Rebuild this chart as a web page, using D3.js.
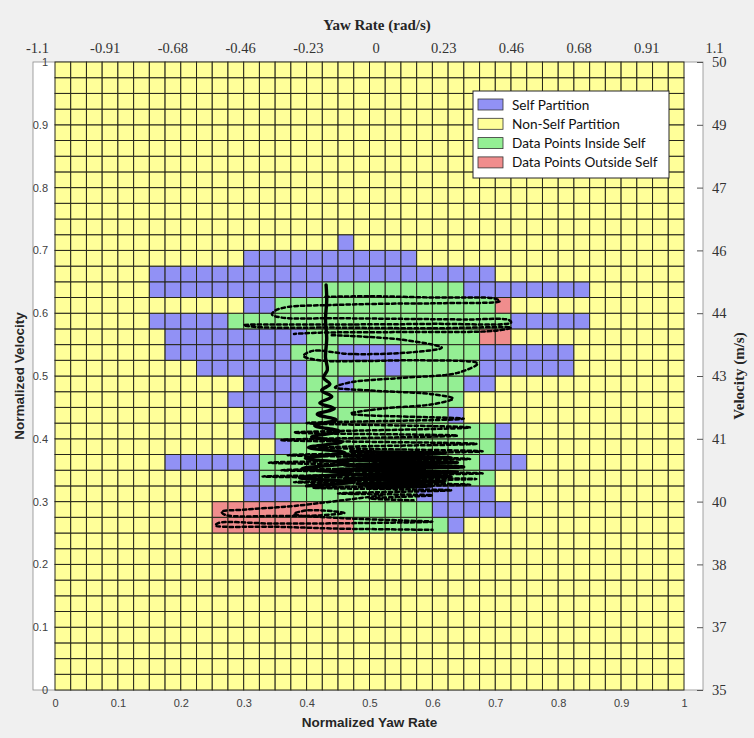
<!DOCTYPE html>
<html>
<head>
<meta charset="utf-8">
<script src="https://cdn.jsdelivr.net/npm/d3@7"></script>
<style>
  body { margin: 0; background: #f0f0f0; }
  svg { display: block; }
</style>
</head>
<body>
<svg id="chart" width="754" height="738"></svg>
<script>
// ---- data ----
const gridSize = 40; // partition cells per axis
const normTicks = [0, 0.1, 0.2, 0.3, 0.4, 0.5, 0.6, 0.7, 0.8, 0.9, 1];
const normTickLabels = ["0", "0.1", "0.2", "0.3", "0.4", "0.5", "0.6", "0.7", "0.8", "0.9", "1"];
const yawTickLabels = ["-1.1", "-0.91", "-0.68", "-0.46", "-0.23", "0", "0.23", "0.46", "0.68", "0.91", "1.1"];
const velTickLabels = ["35", "37", "38", "40", "41", "43", "44", "46", "47", "49", "50"];

// runs of cells: [row, firstCol, lastCol]  (row 0 = bottom, col 0 = left)
const selfRuns = [
  [28, 18, 18],
  [27, 12, 22],
  [26, 6, 27],
  [25, 6, 16], [25, 26, 33],
  [24, 12, 13],
  [23, 6, 10], [23, 29, 33],
  [22, 7, 15],
  [21, 7, 14], [21, 18, 21], [21, 27, 32],
  [20, 9, 15], [20, 21, 21], [20, 27, 32],
  [19, 12, 15], [19, 18, 18], [19, 26, 27],
  [18, 11, 15],
  [17, 12, 15], [17, 25, 25],
  [16, 12, 13], [16, 28, 28],
  [15, 14, 14], [15, 28, 28],
  [14, 7, 12], [14, 27, 29],
  [13, 12, 12],
  [12, 12, 14], [12, 23, 27],
  [11, 24, 28],
  [10, 25, 25]
];
const insideRuns = [
  [25, 17, 25],
  [24, 14, 27],
  [23, 11, 28],
  [22, 16, 26],
  [21, 15, 17], [21, 22, 26],
  [20, 16, 20], [20, 22, 26],
  [19, 16, 17], [19, 19, 25],
  [18, 16, 25],
  [17, 16, 24],
  [16, 14, 27],
  [15, 15, 27],
  [14, 13, 26],
  [13, 13, 27],
  [12, 15, 22],
  [11, 17, 23],
  [10, 19, 24]
];
const outsideRuns = [
  [24, 28, 28],
  [22, 27, 28],
  [11, 10, 16],
  [10, 10, 18]
];

const legendLabels = ["Self Partition", "Non-Self Partition", "Data Points Inside Self", "Data Points Outside Self"];

// flight trace (normalized yaw rate, normalized velocity)
const stemTrace = [
  [0.431,0.645],[0.432,0.62],[0.430,0.59],[0.432,0.56],[0.430,0.53],[0.433,0.51],
  [0.427,0.497],[0.437,0.487],[0.424,0.477],[0.440,0.467],[0.421,0.457],[0.444,0.448],
  [0.417,0.439],[0.447,0.43],[0.413,0.421],[0.452,0.412],[0.408,0.403],[0.456,0.395],
  [0.403,0.386],[0.461,0.378],[0.398,0.369],[0.466,0.361],[0.393,0.353],[0.471,0.345],
  [0.389,0.338],[0.476,0.331],[0.40,0.325]
];
const topSweeps = [
  [0.43,0.626],[0.50,0.627],[0.60,0.625],[0.70,0.623],[0.707,0.619],[0.62,0.616],
  [0.52,0.615],[0.44,0.613],[0.37,0.610],[0.35,0.604],[0.345,0.598],[0.36,0.593],
  [0.45,0.592],[0.55,0.591],[0.65,0.590],[0.722,0.589],[0.725,0.585],[0.60,0.583],
  [0.45,0.582],[0.30,0.581],[0.32,0.578],[0.45,0.577],[0.60,0.576],[0.725,0.577],
  [0.70,0.572],[0.55,0.570],[0.42,0.569],[0.38,0.567]
];
const midSwings = [
  [0.44,0.565],[0.55,0.558],[0.615,0.545],[0.57,0.538],[0.47,0.535],[0.41,0.54],
  [0.395,0.532],[0.42,0.525],[0.50,0.524],[0.58,0.525],[0.672,0.52],[0.64,0.505],
  [0.55,0.497],[0.47,0.49],[0.445,0.482],[0.50,0.477],[0.60,0.471],[0.633,0.464],
  [0.60,0.455],[0.52,0.448],[0.47,0.44],[0.65,0.432],[0.40,0.425],[0.66,0.418],
  [0.38,0.41],[0.64,0.405],[0.36,0.398],[0.67,0.392],[0.42,0.386],[0.68,0.38],
  [0.37,0.374],[0.66,0.368],[0.34,0.362],[0.65,0.356],[0.36,0.35],[0.68,0.345],
  [0.33,0.34],[0.67,0.336],[0.38,0.331],[0.66,0.327],[0.41,0.322],[0.63,0.318],
  [0.45,0.313],[0.60,0.31],[0.50,0.305],[0.57,0.302]
];
const denseCore = [
  [0.47,0.38],[0.62,0.377],[0.46,0.373],[0.63,0.37],[0.45,0.366],[0.64,0.362],
  [0.46,0.358],[0.65,0.355],[0.45,0.351],[0.64,0.347],[0.47,0.343],[0.63,0.34],
  [0.46,0.336],[0.62,0.332],[0.48,0.328],[0.60,0.325],[0.50,0.322]
];
const lowSweeps = [
  [0.52,0.31],[0.44,0.30],[0.38,0.293],[0.34,0.29],[0.30,0.287],[0.265,0.284],
  [0.27,0.279],[0.35,0.277],[0.42,0.278],[0.46,0.282],[0.40,0.286],[0.38,0.28],
  [0.45,0.274],[0.55,0.27],[0.60,0.268],[0.50,0.266],[0.35,0.265],[0.26,0.266],
  [0.255,0.262],[0.35,0.26],[0.45,0.257],[0.52,0.256],[0.60,0.255]
];

// ---- layout ----
const svg = d3.select("#chart");
const x = d3.scaleLinear().domain([0, 1]).range([55, 684]);
const y = d3.scaleLinear().domain([0, 1]).range([690, 62]);
const xTop = d3.scalePoint().domain(yawTickLabels).range([37, 714]);
const yRight = d3.scalePoint().domain(velTickLabels).range([690, 62]);

const colors = {
  nonSelf: "#ffff99",
  self: "#9191f5",
  inside: "#94ef94",
  outside: "#f08d8d"
};

// secondary (physical units) axes: white box, top and right
svg.append("rect")
  .attr("x", 33).attr("y", 62).attr("width", 670).attr("height", 628)
  .attr("fill", "#ffffff").attr("stroke", "#8c8c8c").attr("stroke-width", 0.8);

const topAxis = svg.append("g").attr("transform", "translate(0,62)")
  .call(d3.axisTop(xTop).tickSize(0).tickPadding(9));
topAxis.select(".domain").remove();
topAxis.selectAll("text")
  .attr("font-family", "Liberation Serif, serif").attr("font-size", 14.5).attr("fill", "#333");

const rightAxis = svg.append("g").attr("transform", "translate(703,0)")
  .call(d3.axisRight(yRight).tickSize(-6).tickPadding(9));
rightAxis.select(".domain").remove();
rightAxis.selectAll("line").attr("stroke", "#555");
rightAxis.selectAll("text")
  .attr("font-family", "Liberation Serif, serif").attr("font-size", 14.5).attr("fill", "#333");

// partition grid
const cellColor = Array.from({ length: gridSize }, () => Array(gridSize).fill(colors.nonSelf));
const paint = (runs, c) => runs.forEach(([r, a, b]) => { for (let i = a; i <= b; i++) cellColor[r][i] = c; });
paint(selfRuns, colors.self);
paint(insideRuns, colors.inside);
paint(outsideRuns, colors.outside);

const cells = [];
for (let r = 0; r < gridSize; r++)
  for (let c = 0; c < gridSize; c++)
    cells.push({ r, c, fill: cellColor[r][c] });

const step = 1 / gridSize;
svg.append("g").selectAll("rect").data(cells).join("rect")
  .attr("x", d => x(d.c * step))
  .attr("y", d => y((d.r + 1) * step))
  .attr("width", d => x((d.c + 1) * step) - x(d.c * step))
  .attr("height", d => y(d.r * step) - y((d.r + 1) * step))
  .attr("fill", d => d.fill)
  .attr("stroke", "#26261a").attr("stroke-width", 1);

// flight trace
const line = d3.line().x(d => x(d[0])).y(d => y(d[1])).curve(d3.curveCatmullRom.alpha(0.5));
const traceG = svg.append("g").attr("fill", "none").attr("stroke", "#000")
  .attr("stroke-linecap", "round");
[topSweeps, midSwings, lowSweeps].forEach(seg => {
  traceG.append("path").attr("d", line(seg))
    .attr("stroke-width", 2.5).attr("stroke-dasharray", "3.5,3");
});
traceG.append("path").attr("d", line(denseCore)).attr("stroke-width", 3.2)
  .attr("stroke-dasharray", "6,1.5");
traceG.append("path").attr("d", line(stemTrace)).attr("stroke-width", 3.4);

// primary (normalized) axes
const bottomAxis = svg.append("g").attr("transform", "translate(0,690)")
  .call(d3.axisBottom(x).tickValues(normTicks).tickFormat((d, i) => normTickLabels[i]).tickSize(0).tickPadding(9));
bottomAxis.select(".domain").remove();
bottomAxis.selectAll("text")
  .attr("font-family", "Liberation Sans, Arial, sans-serif").attr("font-size", 11).attr("fill", "#404040");

const leftAxis = svg.append("g").attr("transform", "translate(55,0)")
  .call(d3.axisLeft(y).tickValues(normTicks).tickFormat((d, i) => normTickLabels[i]).tickSize(0).tickPadding(7));
leftAxis.select(".domain").remove();
leftAxis.selectAll("text")
  .attr("font-family", "Liberation Sans, Arial, sans-serif").attr("font-size", 11).attr("fill", "#404040");

// axis titles
svg.append("text").attr("x", 369.5).attr("y", 727).attr("text-anchor", "middle")
  .attr("font-family", "Liberation Sans, Arial, sans-serif").attr("font-weight", "bold")
  .attr("font-size", 13.5).attr("fill", "#262626").text("Normalized Yaw Rate");
svg.append("text").attr("transform", "translate(24,376) rotate(-90)").attr("text-anchor", "middle")
  .attr("font-family", "Liberation Sans, Arial, sans-serif").attr("font-weight", "bold")
  .attr("font-size", 13.5).attr("fill", "#262626").text("Normalized Velocity");
svg.append("text").attr("x", 377).attr("y", 30).attr("text-anchor", "middle")
  .attr("font-family", "Liberation Serif, serif").attr("font-weight", "bold")
  .attr("font-size", 15).attr("fill", "#262626").text("Yaw Rate (rad/s)");
svg.append("text").attr("transform", "translate(744,376) rotate(-90)").attr("text-anchor", "middle")
  .attr("font-family", "Liberation Serif, serif").attr("font-weight", "bold")
  .attr("font-size", 15).attr("fill", "#262626").text("Velocity (m/s)");

// legend
const legendColors = [colors.self, colors.nonSelf, colors.inside, colors.outside];
const lg = svg.append("g").attr("transform", "translate(473,91)");
lg.append("rect").attr("width", 196).attr("height", 87).attr("fill", "#fff")
  .attr("stroke", "#262626").attr("stroke-width", 1);
legendLabels.forEach((lab, i) => {
  const cy = 13.5 + i * 19.3;
  lg.append("rect").attr("x", 5).attr("y", cy - 5.5).attr("width", 25).attr("height", 11)
    .attr("fill", legendColors[i]).attr("stroke", "#333").attr("stroke-width", 0.8);
  lg.append("text").attr("x", 39).attr("y", cy + 5)
    .attr("font-family", "Lato, Open Sans, sans-serif").attr("font-size", 13.6)
    .attr("fill", "#111").text(lab);
});
</script>
</body>
</html>
